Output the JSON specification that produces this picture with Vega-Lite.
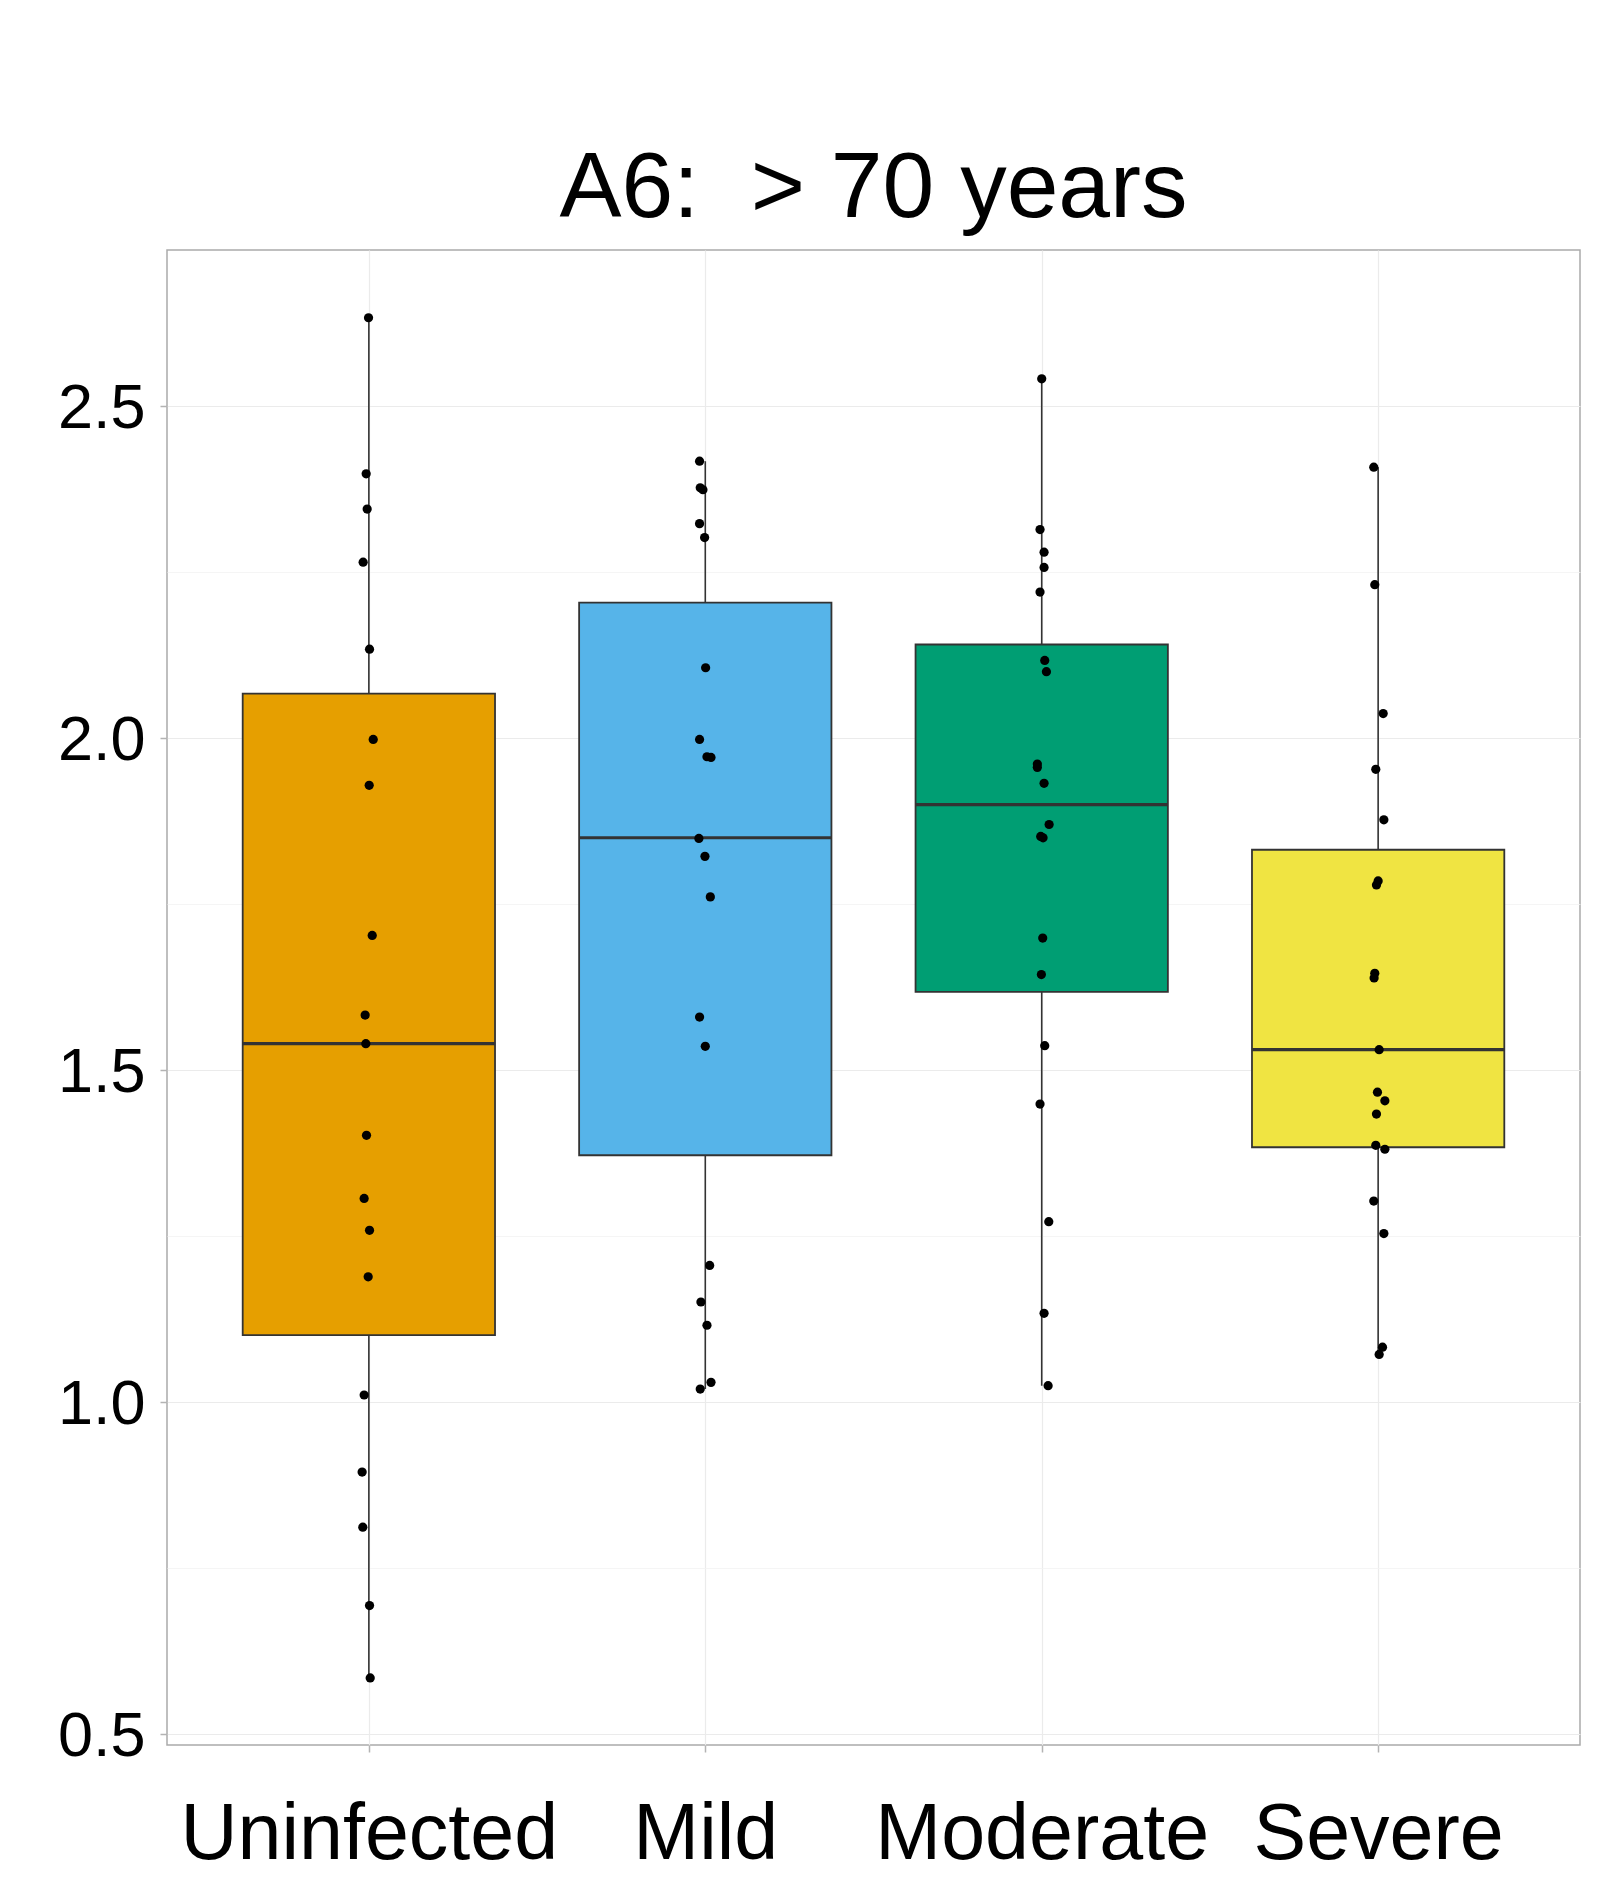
{
  "$schema": "https://vega.github.io/schema/vega-lite/v6.json",
  "autosize": "none",
  "width": 1413,
  "height": 1495,
  "padding": {"left": 167, "top": 250, "right": 25, "bottom": 135},
  "background": "white",
  "config": {
    "font": "Liberation Sans",
    "view": {"stroke": "#AAAAAA", "strokeWidth": 1.5}
  },
  "title": {
    "text": "A6:\u00a0 > 70 years",
    "fontSize": 93,
    "font": "Liberation Sans",
    "fontWeight": "normal",
    "color": "black",
    "anchor": "middle",
    "baseline": "alphabetic",
    "offset": -60
  },
  "datasets": {
    "stats": [
      {"group": "Uninfected", "lo": 0.585, "q1": 1.101, "med": 1.540, "q3": 2.067, "hi": 2.633},
      {"group": "Mild", "lo": 1.020, "q1": 1.372, "med": 1.850, "q3": 2.204, "hi": 2.417},
      {"group": "Moderate", "lo": 1.025, "q1": 1.618, "med": 1.900, "q3": 2.141, "hi": 2.541},
      {"group": "Severe", "lo": 1.072, "q1": 1.384, "med": 1.531, "q3": 1.832, "hi": 2.408}
    ],
    "points": [
      {"group": "Uninfected", "value": 2.633, "jitter": -0.001},
      {"group": "Uninfected", "value": 2.398, "jitter": -0.008},
      {"group": "Uninfected", "value": 2.345, "jitter": -0.005},
      {"group": "Uninfected", "value": 2.265, "jitter": -0.017},
      {"group": "Uninfected", "value": 2.134, "jitter": 0.002},
      {"group": "Uninfected", "value": 1.998, "jitter": 0.013},
      {"group": "Uninfected", "value": 1.929, "jitter": 0.001},
      {"group": "Uninfected", "value": 1.703, "jitter": 0.010},
      {"group": "Uninfected", "value": 1.583, "jitter": -0.011},
      {"group": "Uninfected", "value": 1.540, "jitter": -0.009},
      {"group": "Uninfected", "value": 1.402, "jitter": -0.007},
      {"group": "Uninfected", "value": 1.307, "jitter": -0.014},
      {"group": "Uninfected", "value": 1.259, "jitter": 0.002},
      {"group": "Uninfected", "value": 1.189, "jitter": -0.002},
      {"group": "Uninfected", "value": 1.011, "jitter": -0.014},
      {"group": "Uninfected", "value": 0.895, "jitter": -0.020},
      {"group": "Uninfected", "value": 0.812, "jitter": -0.018},
      {"group": "Uninfected", "value": 0.694, "jitter": 0.002},
      {"group": "Uninfected", "value": 0.585, "jitter": 0.004},
      {"group": "Mild", "value": 2.417, "jitter": -0.017},
      {"group": "Mild", "value": 2.377, "jitter": -0.015},
      {"group": "Mild", "value": 2.374, "jitter": -0.007},
      {"group": "Mild", "value": 2.323, "jitter": -0.017},
      {"group": "Mild", "value": 2.302, "jitter": -0.002},
      {"group": "Mild", "value": 2.106, "jitter": 0.001},
      {"group": "Mild", "value": 1.998, "jitter": -0.017},
      {"group": "Mild", "value": 1.972, "jitter": 0.005},
      {"group": "Mild", "value": 1.971, "jitter": 0.017},
      {"group": "Mild", "value": 1.849, "jitter": -0.019},
      {"group": "Mild", "value": 1.822, "jitter": -0.001},
      {"group": "Mild", "value": 1.761, "jitter": 0.015},
      {"group": "Mild", "value": 1.580, "jitter": -0.017},
      {"group": "Mild", "value": 1.536, "jitter": 0.000},
      {"group": "Mild", "value": 1.206, "jitter": 0.013},
      {"group": "Mild", "value": 1.151, "jitter": -0.013},
      {"group": "Mild", "value": 1.116, "jitter": 0.005},
      {"group": "Mild", "value": 1.030, "jitter": 0.017},
      {"group": "Mild", "value": 1.020, "jitter": -0.015},
      {"group": "Moderate", "value": 2.541, "jitter": 0.000},
      {"group": "Moderate", "value": 2.314, "jitter": -0.005},
      {"group": "Moderate", "value": 2.280, "jitter": 0.007},
      {"group": "Moderate", "value": 2.257, "jitter": 0.007},
      {"group": "Moderate", "value": 2.220, "jitter": -0.005},
      {"group": "Moderate", "value": 2.117, "jitter": 0.009},
      {"group": "Moderate", "value": 2.100, "jitter": 0.014},
      {"group": "Moderate", "value": 1.961, "jitter": -0.013},
      {"group": "Moderate", "value": 1.956, "jitter": -0.013},
      {"group": "Moderate", "value": 1.932, "jitter": 0.007},
      {"group": "Moderate", "value": 1.870, "jitter": 0.022},
      {"group": "Moderate", "value": 1.852, "jitter": -0.003},
      {"group": "Moderate", "value": 1.850, "jitter": 0.004},
      {"group": "Moderate", "value": 1.699, "jitter": 0.003},
      {"group": "Moderate", "value": 1.644, "jitter": -0.001},
      {"group": "Moderate", "value": 1.537, "jitter": 0.009},
      {"group": "Moderate", "value": 1.449, "jitter": -0.005},
      {"group": "Moderate", "value": 1.272, "jitter": 0.021},
      {"group": "Moderate", "value": 1.134, "jitter": 0.007},
      {"group": "Moderate", "value": 1.025, "jitter": 0.019},
      {"group": "Severe", "value": 2.408, "jitter": -0.013},
      {"group": "Severe", "value": 2.231, "jitter": -0.010},
      {"group": "Severe", "value": 2.037, "jitter": 0.015},
      {"group": "Severe", "value": 1.953, "jitter": -0.007},
      {"group": "Severe", "value": 1.877, "jitter": 0.017},
      {"group": "Severe", "value": 1.785, "jitter": 0.000},
      {"group": "Severe", "value": 1.779, "jitter": -0.005},
      {"group": "Severe", "value": 1.646, "jitter": -0.010},
      {"group": "Severe", "value": 1.639, "jitter": -0.012},
      {"group": "Severe", "value": 1.531, "jitter": 0.003},
      {"group": "Severe", "value": 1.467, "jitter": -0.002},
      {"group": "Severe", "value": 1.454, "jitter": 0.020},
      {"group": "Severe", "value": 1.434, "jitter": -0.005},
      {"group": "Severe", "value": 1.387, "jitter": -0.007},
      {"group": "Severe", "value": 1.381, "jitter": 0.020},
      {"group": "Severe", "value": 1.303, "jitter": -0.013},
      {"group": "Severe", "value": 1.254, "jitter": 0.017},
      {"group": "Severe", "value": 1.083, "jitter": 0.013},
      {"group": "Severe", "value": 1.072, "jitter": 0.003}
    ]
  },
  "layer": [
    {
      "data": {"name": "stats"},
      "transform": [
        {"calculate": "indexof(['Uninfected','Mild','Moderate','Severe'], datum.group) + 1", "as": "idx"}
      ],
      "mark": {"type": "rule", "color": "#333333", "strokeWidth": 1.6},
      "encoding": {
        "x": {
          "field": "idx",
          "type": "quantitative",
          "scale": {"domain": [0.4, 4.6], "nice": false, "zero": false},
          "axis": {
            "title": null,
            "values": [1, 2, 3, 4],
            "labelExpr": "['Uninfected','Mild','Moderate','Severe'][datum.value - 1]",
            "labelAngle": 0,
            "labelFontSize": 79,
            "labelColor": "black",
            "labelFont": "Liberation Sans",
            "labelLimit": 0,
            "labelPadding": 44,
            "labelBaseline": "top",
            "labelFlush": false,
            "labelOverlap": false,
            "tickSize": 7,
            "tickColor": "#B3B3B3",
            "tickWidth": 1.5,
            "domain": false,
            "grid": true,
            "gridColor": "#EBEBEB",
            "gridWidth": 1.2
          }
        },
        "y": {
          "field": "lo",
          "type": "quantitative",
          "scale": {"domain": [0.484, 2.735], "nice": false, "zero": false},
          "axis": {
            "title": null,
            "values": [0.5, 0.75, 1, 1.25, 1.5, 1.75, 2, 2.25, 2.5],
            "labelExpr": "(datum.value * 2) % 1 == 0 ? format(datum.value, '.1f') : ''",
            "labelFontSize": 63,
            "labelColor": "black",
            "labelFont": "Liberation Sans",
            "labelLimit": 0,
            "labelPadding": 15,
            "labelBaseline": "alphabetic",
            "labelOffset": 21,
            "labelFlush": false,
            "labelOverlap": false,
            "tickSize": 7,
            "tickColor": "#B3B3B3",
            "tickWidth": 1.5,
            "tickOpacity": {"condition": {"test": "(datum.value * 2) % 1 == 0", "value": 1}, "value": 0},
            "domain": false,
            "grid": true,
            "gridColor": {"condition": {"test": "(datum.value * 2) % 1 == 0", "value": "#EBEBEB"}, "value": "#F3F3F3"},
            "gridWidth": {"condition": {"test": "(datum.value * 2) % 1 == 0", "value": 1.2}, "value": 0.8}
          }
        },
        "y2": {"field": "hi"}
      }
    },
    {
      "data": {"name": "stats"},
      "transform": [
        {"calculate": "indexof(['Uninfected','Mild','Moderate','Severe'], datum.group) + 1", "as": "idx"},
        {"calculate": "datum.idx - 0.375", "as": "left"},
        {"calculate": "datum.idx + 0.375", "as": "right"}
      ],
      "mark": {"type": "bar", "stroke": "#333333", "strokeWidth": 1.8},
      "encoding": {
        "x": {"field": "left", "type": "quantitative"},
        "x2": {"field": "right"},
        "y": {"field": "q1", "type": "quantitative"},
        "y2": {"field": "q3"},
        "fill": {
          "field": "group",
          "type": "nominal",
          "scale": {
            "domain": ["Uninfected", "Mild", "Moderate", "Severe"],
            "range": ["#E69F00", "#56B4E9", "#009E73", "#F0E442"]
          },
          "legend": null
        }
      }
    },
    {
      "data": {"name": "stats"},
      "transform": [
        {"calculate": "indexof(['Uninfected','Mild','Moderate','Severe'], datum.group) + 1", "as": "idx"},
        {"calculate": "datum.idx - 0.375", "as": "left"},
        {"calculate": "datum.idx + 0.375", "as": "right"}
      ],
      "mark": {"type": "rule", "color": "#333333", "strokeWidth": 3.2},
      "encoding": {
        "x": {"field": "left", "type": "quantitative"},
        "x2": {"field": "right"},
        "y": {"field": "med", "type": "quantitative"}
      }
    },
    {
      "data": {"name": "points"},
      "transform": [
        {"calculate": "indexof(['Uninfected','Mild','Moderate','Severe'], datum.group) + 1 + datum.jitter", "as": "pos"}
      ],
      "mark": {"type": "circle", "color": "black", "size": 85, "opacity": 1},
      "encoding": {
        "x": {"field": "pos", "type": "quantitative"},
        "y": {"field": "value", "type": "quantitative"}
      }
    }
  ]
}
